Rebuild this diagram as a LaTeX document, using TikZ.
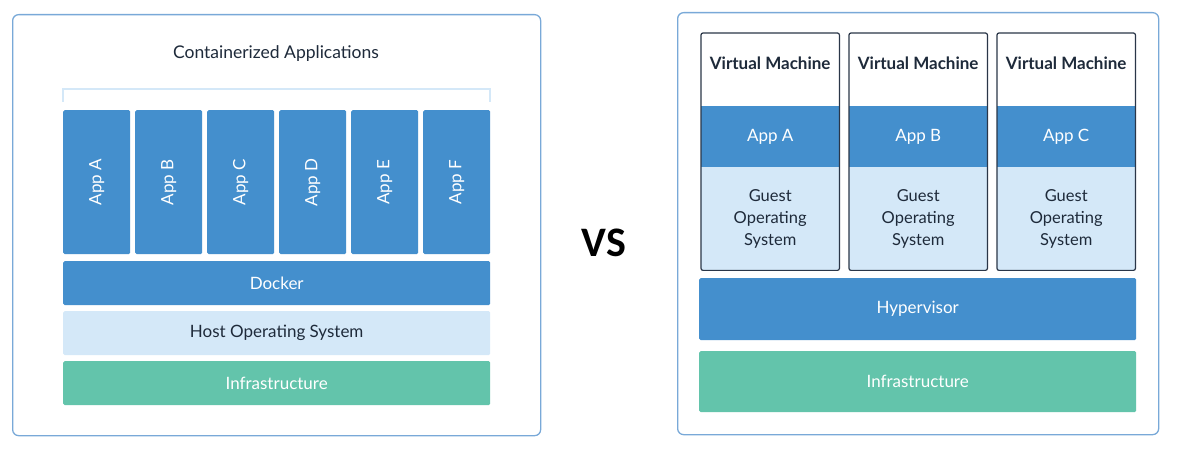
\documentclass[tikz,border=0pt]{standalone}
\usepackage{fontspec}
\setmainfont{Lato}
\newfontfamily\vsfont{Carlito}
\definecolor{dblue}{HTML}{448FCD}
\definecolor{lblue}{HTML}{D4E8F8}
\definecolor{green}{HTML}{63C4AB}
\definecolor{frame}{HTML}{79A9D8}
\definecolor{navy}{HTML}{2A3648}
\definecolor{txt}{HTML}{1E2A3A}
\tikzset{
  panel/.style={draw=frame, line width=1.3pt, rounded corners=6pt, fill=white},
  layer/.style={anchor=north west, inner sep=0pt, rounded corners=1.5pt},
  darkbox/.style={layer, fill=dblue, text=white},
  lightbox/.style={layer, fill=lblue, text=txt},
  greenbox/.style={layer, fill=green, text=white!92!green},
  lbl/.style={font=\fontsize{17}{20}\selectfont, inner sep=0pt},
  vmframe/.style={draw=navy, line width=1.2pt, rounded corners=2pt},
}
\begin{document}
\begin{tikzpicture}[x=1pt,y=-1pt]
\useasboundingbox (0,0) rectangle (1189,454);
% ---------- left panel ----------
\node[panel, anchor=north west, minimum width=528, minimum height=421, inner sep=0pt] (lpanel) at (12,14) {};
\node[lbl, text=txt, font=\fontsize{17.5}{20}\selectfont] (ctitle) at (276,54) {Containerized Applications};
\draw[lblue, line width=2.2pt] (63,102) coordinate (bl) -- (63,89) -- (490,89) -- (490,102) coordinate (br);
\foreach \n/\x/\l in {a/63/A,b/135/B,c/207/C,d/279/D,e/351/E,f/423/F}{
  \node[darkbox, minimum width=67, minimum height=144] (app\n) at (\x,110) {};
  \node[lbl, rotate=90, text=white] (appl\n) at (app\n.center) {App \l};
}
\node[darkbox, minimum width=427, minimum height=44] (docker) at (63,261) {};
\node[lbl, text=white] (dockerl) at (docker.center) {Docker};
\node[lightbox, minimum width=427, minimum height=44] (hostos) at (63,311) {};
\node[lbl, text=txt] (hostosl) at (hostos.center) {Host Operating System};
\node[greenbox, minimum width=427, minimum height=44] (linfra) at (63,361) {};
\node[lbl, text=white] (linfral) at (linfra.center) {Infrastructure};
% ---------- VS ----------
\node[font=\vsfont\bfseries\fontsize{42}{46}\selectfont, inner sep=0pt] (vs) at (604,243) {VS};
% ---------- right panel ----------
\node[panel, anchor=north west, minimum width=481, minimum height=422, inner sep=0pt] (rpanel) at (677,12) {};
\foreach \n/\x/\l in {a/701/A,b/849/B,c/997/C}{
  \node[layer, fill=white, minimum width=138, minimum height=73] (vmt\n) at (\x,33) {};
  \node[lbl, font=\bfseries\fontsize{17}{20}\selectfont, text=txt] (vmtl\n) at ([yshift=-30]vmt\n.north) {Virtual Machine};
  \node[anchor=north west, inner sep=0pt, fill=dblue, minimum width=138, minimum height=61] (vma\n) at (\x,106) {};
  \node[lbl, text=white] (vmal\n) at (vma\n.center) {App \l};
  \node[anchor=north west, inner sep=0pt, fill=lblue, minimum width=138, minimum height=103] (vmg\n) at (\x,167) {};
  \node[lbl, text=txt, align=center, font=\fontsize{16.5}{22}\selectfont] (vmgl\n) at (vmg\n.center) {Guest\\Operating\\System};
  \draw[vmframe] (vmt\n.north west) rectangle (vmg\n.south east);
}
\node[darkbox, minimum width=437, minimum height=62] (hyper) at (699,278) {};
\node[lbl, text=white] (hyperl) at (hyper.center) {Hypervisor};
\node[greenbox, minimum width=437, minimum height=61] (rinfra) at (699,351) {};
\node[lbl, text=white] (rinfral) at (rinfra.center) {Infrastructure};
\end{tikzpicture}
\end{document}
